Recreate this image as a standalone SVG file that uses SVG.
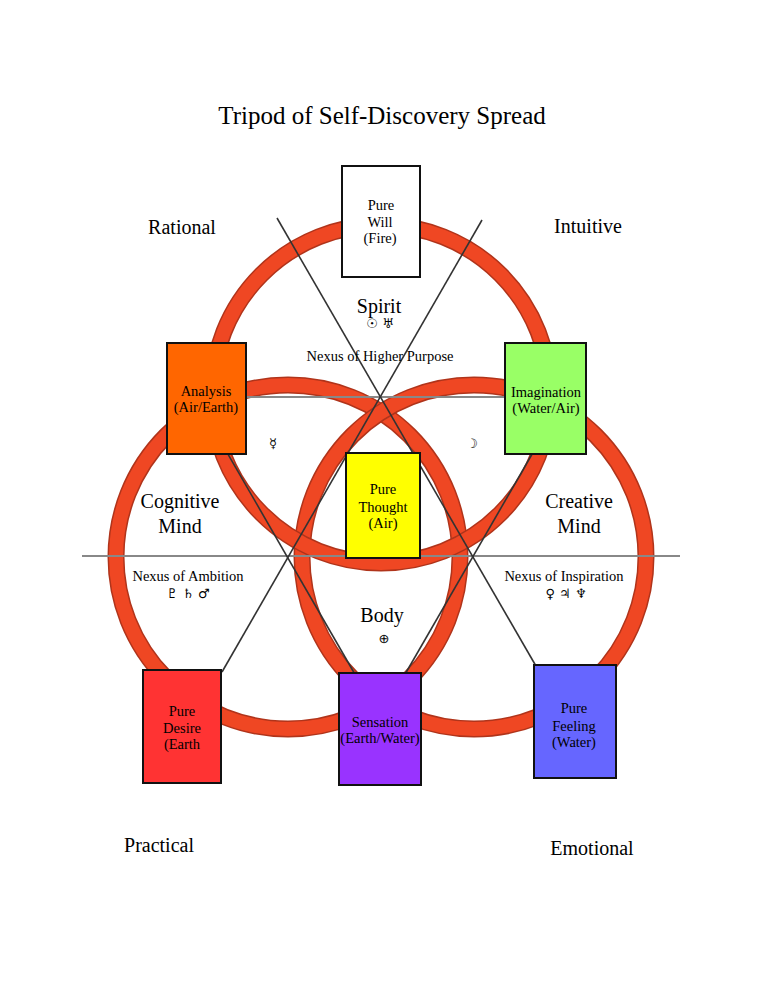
<svg xmlns="http://www.w3.org/2000/svg" width="762" height="986" viewBox="0 0 762 986">
<style>
text{font-family:"Liberation Serif","Times New Roman",serif;fill:#000;text-anchor:middle}
.bx{stroke:#111;stroke-width:2}
.t{font-size:14.5px}
.big{font-size:20px}
.nx{font-size:14.5px}
.sym{font-family:"DejaVu Sans","DejaVu Serif",sans-serif;font-size:13px;fill:#000}
.ro{fill:none;stroke:#b0341b;stroke-width:17}
.ri{fill:none;stroke:#ef4723;stroke-width:14}
.dl{stroke:#333;stroke-width:1.6;fill:none}
.hl{stroke:#888;stroke-width:2;fill:none}
</style>
<rect width="762" height="986" fill="#fff"/>
<text x="382" y="124" style="font-size:25px">Tripod of Self-Discovery Spread</text>
<g id="rings">
<circle class="ro" cx="288" cy="557" r="172"/><circle class="ri" cx="288" cy="557" r="172"/>
<circle class="ro" cx="474" cy="557" r="172"/><circle class="ri" cx="474" cy="557" r="172"/>
<circle class="ro" cx="381" cy="394" r="169"/><circle class="ri" cx="381" cy="394" r="169"/>
</g>
<g id="connectors">
<line class="hl" x1="195" y1="397" x2="565" y2="397"/>
<line class="hl" x1="82" y1="556" x2="680" y2="556"/>
<line class="dl" x1="277" y1="218" x2="540" y2="673"/>
<line class="dl" x1="482" y1="220" x2="222" y2="672"/>
<line class="dl" x1="195" y1="397" x2="360" y2="683"/>
<line class="dl" x1="565" y1="397" x2="400" y2="683"/>
</g>
<g id="labels">
<text class="big" x="182" y="234">Rational</text>
<text class="big" x="588" y="233">Intuitive</text>
<text class="big" x="159" y="852">Practical</text>
<text class="big" x="592" y="855">Emotional</text>
</g>
<g id="spirit">
<text class="big" x="379" y="313">Spirit</text>
<text class="sym" x="380" y="328">☉︎ ♅︎</text>
</g>
<g id="nexus-higher"><text class="nx" x="380" y="361">Nexus of Higher Purpose</text></g>
<g id="mercury"><text class="sym" x="273" y="448">☿︎</text></g>
<g id="moon"><text class="sym" x="472" y="448">☽︎</text></g>
<g id="cognitive"><text class="big" x="180" y="508">Cognitive</text><text class="big" x="180" y="533">Mind</text></g>
<g id="creative"><text class="big" x="579" y="508">Creative</text><text class="big" x="579" y="533">Mind</text></g>
<g id="nexus-ambition"><text class="nx" x="188" y="581">Nexus of Ambition</text><text class="sym" x="188" y="598">♇︎ ♄︎ ♂︎</text></g>
<g id="nexus-inspiration"><text class="nx" x="564" y="581">Nexus of Inspiration</text><text class="sym" x="566" y="598">♀︎ ♃︎ ♆︎</text></g>
<g id="body"><text class="big" x="382" y="622">Body</text><text class="sym" x="384" y="643">⊕</text></g>
<g id="pure-will">
<rect class="bx" x="342" y="166" width="78" height="111" fill="#fff"/>
<text class="t" x="381" y="210">Pure</text><text class="t" x="380" y="227">Will</text><text class="t" x="380" y="243">(Fire)</text>
</g>
<g id="analysis">
<rect class="bx" x="167" y="343" width="79" height="111" fill="#ff6600"/>
<text class="t" x="206" y="396">Analysis</text><text class="t" x="206" y="412">(Air/Earth)</text>
</g>
<g id="imagination">
<rect class="bx" x="505" y="343" width="81" height="111" fill="#99ff66"/>
<text class="t" x="546" y="397">Imagination</text><text class="t" x="546" y="413">(Water/Air)</text>
</g>
<g id="pure-thought">
<rect class="bx" x="346" y="453" width="74" height="105" fill="#ffff00"/>
<text class="t" x="383" y="494">Pure</text><text class="t" x="383" y="512">Thought</text><text class="t" x="383" y="528">(Air)</text>
</g>
<g id="pure-desire">
<rect class="bx" x="143" y="670" width="78" height="113" fill="#ff3333"/>
<text class="t" x="182" y="716">Pure</text><text class="t" x="182" y="733">Desire</text><text class="t" x="182" y="749">(Earth</text>
</g>
<g id="sensation">
<rect class="bx" x="339" y="673" width="82" height="112" fill="#9933ff"/>
<text class="t" x="380" y="727">Sensation</text><text class="t" x="380" y="743">(Earth/Water)</text>
</g>
<g id="pure-feeling">
<rect class="bx" x="534" y="665" width="82" height="113" fill="#6666ff"/>
<text class="t" x="574" y="713">Pure</text><text class="t" x="574" y="731">Feeling</text><text class="t" x="574" y="747">(Water)</text>
</g>
</svg>
